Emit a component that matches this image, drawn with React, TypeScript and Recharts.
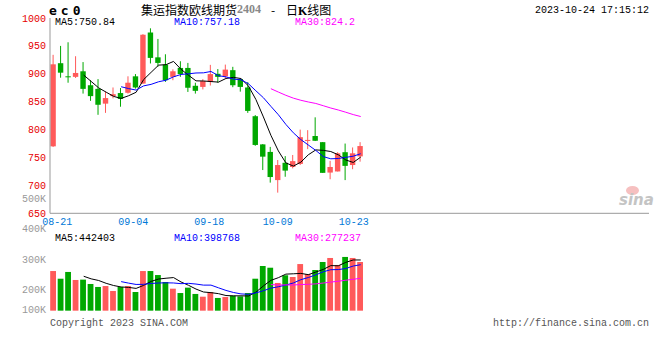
import React from 'react';
import { ComposedChart, Bar, Line, XAxis, YAxis } from 'recharts';

// EC2404 daily candles, 08-18 .. 10-24
const dates = [
  '08-18', '08-21', '08-22', '08-23', '08-24', '08-25', '08-28', '08-29', '08-30', '08-31',
  '09-01', '09-04', '09-05', '09-06', '09-07', '09-08', '09-11', '09-12', '09-13', '09-14',
  '09-15', '09-18', '09-19', '09-20', '09-21', '09-22', '09-25', '09-26', '09-27', '09-28',
  '10-09', '10-10', '10-11', '10-12', '10-13', '10-16', '10-17', '10-18', '10-19', '10-20',
  '10-23', '10-24',
];
const opens = [
  770, 919, 895.5, 894.5, 904.5, 879.5, 873, 846.5, 860, 865.5,
  866, 895.5, 882.5, 974, 929.5, 916.5, 894.5, 910.5, 910.5, 878.5,
  876.5, 885.5, 900, 895.5, 906.5, 890.5, 875.5, 824, 773.5, 760,
  709.5, 740.5, 733, 738.5, 780.5, 788.5, 777.5, 723, 725, 759.5,
  736.5, 752,
];
const highs = [
  934, 950, 956.5, 931.5, 921, 888.5, 890.5, 868, 875.5, 874.5,
  895.5, 899.5, 971, 981.5, 962.5, 935, 908, 922.5, 919.5, 884,
  890.5, 916, 908.5, 916.5, 912.5, 891.5, 885, 826, 774, 769,
  745.5, 752.5, 754.5, 800, 799, 822, 777.5, 744, 759.5, 775,
  768, 777.5,
];
const lows = [
  769, 893, 884, 892.5, 864.5, 851.5, 826.5, 830, 856, 841,
  864.5, 873.5, 882, 918.5, 912.5, 885.5, 888.5, 894.5, 867.5, 864.5,
  872, 879, 884, 891.5, 876, 868, 830, 771, 727.5, 705,
  687, 715.5, 730.5, 736.5, 765, 779.5, 722.5, 711, 725, 709.5,
  729, 742.5,
];
const closes = [
  917, 902, 895, 901.5, 873, 860, 844.5, 856.5, 863.5, 855,
  884, 875.5, 970, 928.5, 919.5, 888.5, 904.5, 899.5, 875, 869.5,
  887, 899.5, 894.5, 907.5, 879.5, 876.5, 833.5, 772.5, 751.5, 715,
  736.5, 726.5, 743.5, 786.5, 781.5, 780, 722.5, 733, 757.5, 735,
  757.5, 770.5,
];
const volumes = [
  346000, 279000, 338000, 268000, 271000, 233000, 207000, 215000, 172000, 207000,
  215000, 163000, 346000, 346000, 311000, 250000, 192000, 154000, 201000, 146000,
  122000, 163000, 111000, 119000, 131000, 125000, 154000, 279000, 390000, 375000,
  242000, 309000, 294000, 407000, 320000, 355000, 425000, 460000, 399000, 469000,
  460000, 425000,
];

const gridDates = ['08-21', '09-04', '09-18', '10-09', '10-23'];
const priceTicks = [650, 700, 750, 800, 850, 900, 950, 1000];
const volGridTicks = [100000, 200000, 300000, 400000];
const volTickLabels = ['500K', '400K', '300K', '200K', '100K'];
const priceMaLabels = ['MA5:750.84', 'MA10:757.18', 'MA30:824.2'];
const volMaLabels = ['MA5:442403', 'MA10:398768', 'MA30:277237'];

const SLOTS = 80;
const RED = '#ff5a5a';
const GREEN = '#00a800';
const BORDER = '#999';
const GRID = '#a0a0a0';
const MA_COLORS = ['#000000', '#0000ff', '#ff00ff'];
const MONO = '"Liberation Mono", "DejaVu Sans Mono", monospace';

const movingAvg = (arr: number[], n: number) =>
  arr.map((_, i) => (i < n - 1 ? null : arr.slice(i - n + 1, i + 1).reduce((a, b) => a + b, 0) / n));

const pMa5 = movingAvg(closes, 5);
const pMa10 = movingAvg(closes, 10);
const pMa30 = movingAvg(closes, 30);
const vMa5 = movingAvg(volumes, 5);
const vMa10 = movingAvg(volumes, 10);
const vMa30 = movingAvg(volumes, 30);

const rows = Array.from({ length: SLOTS }, (_, i) =>
  i < dates.length
    ? {
        i,
        gi: i,
        d: dates[i],
        o: opens[i],
        h: highs[i],
        l: lows[i],
        c: closes[i],
        v: volumes[i],
        ma5: pMa5[i],
        ma10: pMa10[i],
        ma30: pMa30[i],
        vma5: vMa5[i],
        vma10: vMa10[i],
        vma30: vMa30[i],
      }
    : { i }
);

const gridIdx = gridDates.map((d) => dates.indexOf(d));
const GRID_DOMAIN = [0.04, 78.86];

function Candle(props: any) {
  const { x, y, height, payload } = props;
  if (!payload || payload.h == null) return <g />;
  const { o, h, l, c } = payload;
  const color = c >= o ? RED : GREEN;
  const top = Math.min(y, y + height);
  const span = Math.abs(height);
  const k = h > l ? span / (h - l) : 0;
  const py = (v: number) => top + (h - v) * k;
  const bx = x + 0.4;
  const bw = 5.4;
  const mid = bx + bw / 2;
  const y1 = py(Math.max(o, c));
  const y2 = py(Math.min(o, c));
  return (
    <g>
      <line x1={mid} x2={mid} y1={top} y2={top + span} stroke={color} strokeWidth={1} />
      <rect x={bx} y={y1} width={bw} height={Math.max(y2 - y1, 1)} fill={color} />
    </g>
  );
}

function VolBar(props: any) {
  const { x, y, height, payload } = props;
  if (!payload || payload.v == null) return <g />;
  const color = payload.c >= payload.o ? RED : GREEN;
  return <rect x={x + 0.2} y={Math.min(y, y + height)} width={5.8} height={Math.abs(height)} fill={color} />;
}

const txt = (extra: React.CSSProperties): React.CSSProperties => ({
  position: 'absolute',
  whiteSpace: 'nowrap',
  fontFamily: MONO,
  fontSize: 10,
  lineHeight: '12px',
  ...extra,
});

const dashed = { stroke: GRID, strokeDasharray: '2 2', strokeWidth: 1 };
// grid axes keep their ticks (so tick lines get drawn) but print no label
const silentTick = { fill: 'none', fontSize: 1 };
const noLabel = () => '';

export default function App() {
  const maX = [55, 174, 295];
  const volLabelY = [194, 224, 255, 285, 305];
  const plotW = 599;
  const priceH = 195.3;
  const volH = 84;
  return (
    <div style={{ position: 'absolute', left: 0, top: 0, width: 660, height: 360, background: '#fff', overflow: 'hidden' }}>
      {/* price chart */}
      <div style={{ position: 'absolute', left: 0, top: 0 }}>
        <ComposedChart width={660} height={232} data={rows} margin={{ top: 18, right: 11, bottom: 4.7, left: 0 }} barCategoryGap={0}>
          <XAxis
            xAxisId="grid"
            dataKey="gi"
            type="number"
            domain={GRID_DOMAIN}
            allowDataOverflow
            ticks={gridIdx}
            interval={0}
            tickFormatter={(v: number) => dates[v]}
            height={14}
            tickSize={0}
            tickMargin={5}
            tickLine={false}
            axisLine={{ stroke: BORDER }}
            tick={{ fill: '#0078d7', fontSize: 10, fontFamily: MONO }}
          />
          <XAxis xAxisId="c" dataKey="i" type="category" height={0} hide />
          {/* top border + vertical dotted grid (tick lines reaching down through the plot) */}
          <XAxis
            xAxisId="t"
            dataKey="gi"
            type="number"
            orientation="top"
            domain={GRID_DOMAIN}
            allowDataOverflow
            ticks={gridIdx}
            interval={0}
            height={0}
            tick={silentTick}
            tickFormatter={noLabel}
            tickSize={-priceH}
            tickLine={dashed}
            axisLine={{ stroke: '#b0b0b0' }}
          />
          <YAxis
            yAxisId="p"
            domain={[650, 1000]}
            allowDataOverflow
            ticks={priceTicks}
            interval={0}
            width={50}
            tickSize={0}
            tickMargin={4}
            tickLine={false}
            axisLine={{ stroke: BORDER }}
            tick={{ fill: '#e60000', fontSize: 10, fontFamily: MONO }}
          />
          {/* right border + horizontal dotted grid */}
          <YAxis
            yAxisId="r"
            orientation="right"
            domain={[650, 1000]}
            allowDataOverflow
            ticks={priceTicks}
            interval={0}
            width={0}
            tick={silentTick}
            tickFormatter={noLabel}
            tickSize={-plotW}
            tickLine={dashed}
            axisLine={{ stroke: BORDER, strokeWidth: 1.5 }}
          />
          <Bar
            xAxisId="c"
            yAxisId="p"
            dataKey={(r: any) => (r.h == null ? null : [r.l, r.h])}
            shape={(p: any) => <Candle {...p} />}
            isAnimationActive={false}
          />
          <Line xAxisId="c" yAxisId="p" dataKey="ma5" stroke={MA_COLORS[0]} strokeWidth={1} dot={false} activeDot={false} isAnimationActive={false} />
          <Line xAxisId="c" yAxisId="p" dataKey="ma10" stroke={MA_COLORS[1]} strokeWidth={1} dot={false} activeDot={false} isAnimationActive={false} />
          <Line xAxisId="c" yAxisId="p" dataKey="ma30" stroke={MA_COLORS[2]} strokeWidth={1} dot={false} activeDot={false} isAnimationActive={false} />
        </ComposedChart>
      </div>

      {/* volume chart */}
      <div style={{ position: 'absolute', left: 0, top: 0 }}>
        <ComposedChart width={660} height={360} data={rows} margin={{ top: 234.3, right: 11, bottom: 41.7, left: 50 }} barCategoryGap={0}>
          <XAxis
            xAxisId="grid"
            dataKey="gi"
            type="number"
            domain={GRID_DOMAIN}
            allowDataOverflow
            ticks={gridIdx}
            interval={0}
            height={0}
            tick={false}
            tickLine={false}
            axisLine={{ stroke: BORDER, strokeWidth: 1.5 }}
          />
          <XAxis xAxisId="c" dataKey="i" type="category" height={0} hide />
          <XAxis
            xAxisId="t"
            dataKey="gi"
            type="number"
            orientation="top"
            domain={GRID_DOMAIN}
            allowDataOverflow
            ticks={gridIdx}
            interval={0}
            height={0}
            tick={silentTick}
            tickFormatter={noLabel}
            tickSize={-volH}
            tickLine={dashed}
            axisLine={{ stroke: '#b0b0b0' }}
          />
          <YAxis yAxisId="g" domain={[-13100, 400000]} allowDataOverflow width={0} tick={false} tickLine={false} axisLine={{ stroke: BORDER, strokeWidth: 1.5 }} />
          <YAxis yAxisId="v" domain={[-66600, 666700]} allowDataOverflow width={0} hide />
          <YAxis
            yAxisId="r"
            orientation="right"
            domain={[-13100, 400000]}
            allowDataOverflow
            ticks={volGridTicks}
            interval={0}
            width={0}
            tick={silentTick}
            tickFormatter={noLabel}
            tickSize={-plotW}
            tickLine={dashed}
            axisLine={{ stroke: BORDER, strokeWidth: 1.5 }}
          />
          <Bar xAxisId="c" yAxisId="v" dataKey="v" shape={(p: any) => <VolBar {...p} />} isAnimationActive={false} />
          <Line xAxisId="c" yAxisId="v" dataKey="vma5" stroke={MA_COLORS[0]} strokeWidth={1} dot={false} activeDot={false} isAnimationActive={false} />
          <Line xAxisId="c" yAxisId="v" dataKey="vma10" stroke={MA_COLORS[1]} strokeWidth={1} dot={false} activeDot={false} isAnimationActive={false} />
          <Line xAxisId="c" yAxisId="v" dataKey="vma30" stroke={MA_COLORS[2]} strokeWidth={1} dot={false} activeDot={false} isAnimationActive={false} />
        </ComposedChart>
      </div>

      {/* header */}
      <div style={txt({ left: 49, top: 3, fontSize: 13, fontWeight: 'bold', letterSpacing: 4, fontFamily: '"DejaVu Sans Mono", monospace', lineHeight: '16px' })}>ec0</div>
      <div style={txt({ left: 141, top: 2, fontSize: 12, lineHeight: '15px', fontFamily: '"Noto Sans CJK SC", sans-serif' })}>集运指数欧线期货</div>
      <div style={txt({ left: 237, top: 2, fontSize: 12, lineHeight: '15px', fontWeight: 'bold', color: '#888', fontFamily: '"Liberation Serif", serif' })}>2404</div>
      <div style={txt({ left: 271, top: 2, fontSize: 12, lineHeight: '15px', fontFamily: '"Noto Sans CJK SC", sans-serif' })}>-</div>
      <div style={txt({ left: 286, top: 2, fontSize: 12, lineHeight: '15px', fontFamily: '"Noto Sans CJK SC", sans-serif' })}>
        日<b style={{ fontFamily: '"Liberation Serif", serif' }}>K</b>线图
      </div>
      <div style={txt({ left: 535, top: 5 })}>2023-10-24 17:15:12</div>

      {/* MA legends */}
      {priceMaLabels.map((s, k) => (
        <div key={'pm' + k} style={txt({ left: maX[k], top: 17, color: MA_COLORS[k] })}>{s}</div>
      ))}
      {volMaLabels.map((s, k) => (
        <div key={'vm' + k} style={txt({ left: maX[k], top: 233, color: MA_COLORS[k] })}>{s}</div>
      ))}

      {/* volume axis labels */}
      {volTickLabels.map((s, k) => (
        <div key={'vl' + k} style={txt({ left: 0, width: 46, textAlign: 'right', top: volLabelY[k], color: '#999' })}>{s}</div>
      ))}

      {/* watermark */}
      <div style={{ position: 'absolute', left: 626, top: 186, width: 13, height: 9, borderRadius: '50%', background: '#f6c0c0' }} />
      <div style={txt({ left: 619, top: 192, fontSize: 15, lineHeight: '16px', fontStyle: 'italic', fontWeight: 'bold', color: '#c4c4c4', fontFamily: '"DejaVu Sans", sans-serif' })}>sina</div>

      {/* footer */}
      <div style={txt({ left: 50, top: 318, color: '#555' })}>Copyright 2023 SINA.COM</div>
      <div style={txt({ left: 0, width: 649, textAlign: 'right', top: 318, color: '#555' })}>http://finance.sina.com.cn</div>
    </div>
  );
}
